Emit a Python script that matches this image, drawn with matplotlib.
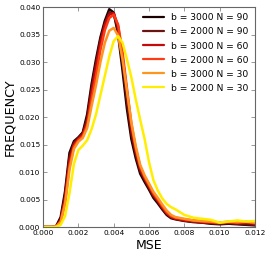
import numpy as np
import matplotlib
matplotlib.use("Agg")
import matplotlib.pyplot as plt

# MSE grid (x values)
mse = [0.0, 0.00025, 0.0005, 0.00075, 0.001, 0.00125, 0.0015, 0.00175, 0.002, 0.00225,
       0.0025, 0.00275, 0.003, 0.00325, 0.0035, 0.00375, 0.004, 0.00425, 0.0045, 0.00475,
       0.005, 0.00525, 0.0055, 0.00575, 0.006, 0.00625, 0.0065, 0.00675, 0.007, 0.00725,
       0.0075, 0.008, 0.0085, 0.009, 0.0095, 0.010, 0.0105, 0.011, 0.0115, 0.012]

labels = ["b = 3000 N = 90", "b = 2000 N = 90", "b = 3000 N = 60",
          "b = 2000 N = 60", "b = 3000 N = 30", "b = 2000 N = 30"]
colors = ["#1a0000", "#6a1414", "#c40a0a", "#ff3a14", "#ff9420", "#ffee00"]

freq_b3000_n90 = [0, 0, 0, 0.0002, 0.0018, 0.0065, 0.0135, 0.0156, 0.0163, 0.0172,
                  0.0205, 0.0260, 0.0305, 0.0345, 0.0375, 0.0396, 0.0390, 0.0350, 0.0285, 0.0215,
                  0.0160, 0.0125, 0.0097, 0.0082, 0.0068, 0.0053, 0.0043, 0.0032, 0.0022, 0.0016,
                  0.0014, 0.0011, 0.0009, 0.0008, 0.0006, 0.0005, 0.0006, 0.0005, 0.0004, 0.0003]
freq_b2000_n90 = [0, 0, 0, 0.0001, 0.0014, 0.0058, 0.0128, 0.0153, 0.0162, 0.0170,
                  0.0198, 0.0252, 0.0298, 0.0340, 0.0370, 0.0390, 0.0388, 0.0358, 0.0298, 0.0228,
                  0.0170, 0.0132, 0.0102, 0.0086, 0.0071, 0.0056, 0.0046, 0.0034, 0.0024, 0.0018,
                  0.0015, 0.0012, 0.0010, 0.0008, 0.0007, 0.0006, 0.0007, 0.0006, 0.0005, 0.0004]
freq_b3000_n60 = [0, 0, 0, 0.0001, 0.0012, 0.0052, 0.0120, 0.0150, 0.0160, 0.0168,
                  0.0190, 0.0243, 0.0290, 0.0333, 0.0367, 0.0386, 0.0389, 0.0365, 0.0310, 0.0245,
                  0.0180, 0.0138, 0.0106, 0.0089, 0.0074, 0.0059, 0.0048, 0.0036, 0.0025, 0.0018,
                  0.0015, 0.0012, 0.0010, 0.0009, 0.0008, 0.0007, 0.0008, 0.0007, 0.0008, 0.0006]
freq_b2000_n60 = [0, 0, 0, 0.0001, 0.0010, 0.0046, 0.0112, 0.0146, 0.0158, 0.0165,
                  0.0185, 0.0232, 0.0275, 0.0322, 0.0358, 0.0380, 0.0386, 0.0368, 0.0318, 0.0252,
                  0.0188, 0.0143, 0.0110, 0.0091, 0.0076, 0.0061, 0.0050, 0.0038, 0.0027, 0.0020,
                  0.0017, 0.0014, 0.0012, 0.0010, 0.0009, 0.0008, 0.0009, 0.0008, 0.0009, 0.0007]
freq_b3000_n30 = [0, 0, 0, 0.0001, 0.0009, 0.0042, 0.0105, 0.0142, 0.0155, 0.0162,
                  0.0180, 0.0220, 0.0258, 0.0300, 0.0335, 0.0357, 0.0362, 0.0348, 0.0305, 0.0248,
                  0.0190, 0.0147, 0.0113, 0.0094, 0.0079, 0.0064, 0.0053, 0.0041, 0.0030, 0.0022,
                  0.0018, 0.0015, 0.0012, 0.0011, 0.0010, 0.0008, 0.0010, 0.0009, 0.0010, 0.0008]
freq_b2000_n30 = [0, 0, 0, 0, 0.0004, 0.0020, 0.0062, 0.0115, 0.0140, 0.0148,
                  0.0158, 0.0178, 0.0205, 0.0240, 0.0275, 0.0310, 0.0338, 0.0347, 0.0335, 0.0305,
                  0.0272, 0.0232, 0.0195, 0.0160, 0.0118, 0.0085, 0.0066, 0.0052, 0.0042, 0.0036,
                  0.0032, 0.0022, 0.0017, 0.0015, 0.0013, 0.0008, 0.0010, 0.0012, 0.0010, 0.0011]

series = [freq_b3000_n90, freq_b2000_n90, freq_b3000_n60,
          freq_b2000_n60, freq_b3000_n30, freq_b2000_n30]

fig = plt.figure(figsize=(2.69, 2.57), dpi=100)
ax = fig.add_axes([0.160, 0.1167, 0.788, 0.856])

for y, lab, c in zip(series, labels, colors):
    ax.plot(mse, y, color=c, lw=1.8, label=lab, solid_capstyle="round", solid_joinstyle="round")

ax.set_xlim(0, 0.012)
ax.set_ylim(0, 0.040)
ax.set_xticks(np.arange(0, 0.0121, 0.002))
ax.set_yticks(np.arange(0, 0.0401, 0.005))
ax.xaxis.set_major_formatter(matplotlib.ticker.FormatStrFormatter("%.3f"))
ax.yaxis.set_major_formatter(matplotlib.ticker.FormatStrFormatter("%.3f"))
ax.tick_params(direction="in", top=True, right=True, length=3, width=0.6,
               color="#888888", labelsize=5.3, pad=2)
for s in ax.spines.values():
    s.set_color("#666666")
    s.set_linewidth(0.8)

ax.set_xlabel("MSE", fontsize=9, labelpad=2)
ax.set_ylabel("FREQUENCY", fontsize=9.2, labelpad=2)

leg = ax.legend(loc="upper right", frameon=False, fontsize=6.6, handlelength=2.3,
                handletextpad=0.8, labelspacing=0.55, borderaxespad=0.3)
for h in leg.get_lines():
    h.set_linewidth(1.6)

fig.savefig("out.png", dpi=100)
